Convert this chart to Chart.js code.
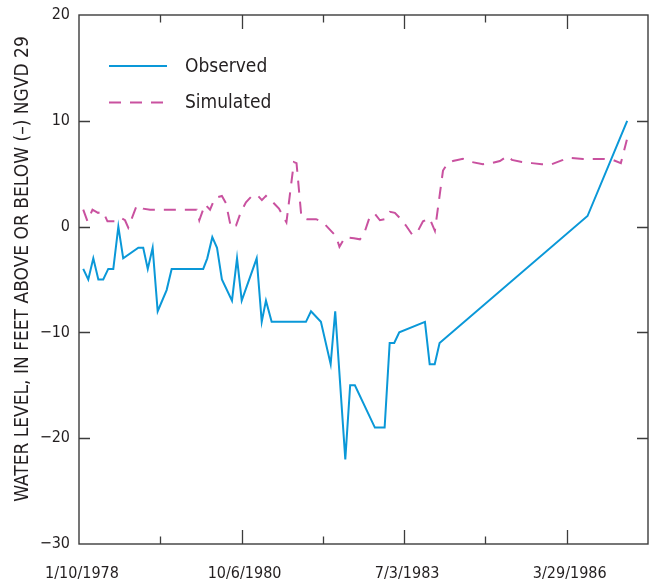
<!DOCTYPE html>
<html>
<head>
<meta charset="utf-8">
<script src="https://cdn.jsdelivr.net/npm/chart.js@4.4.1/dist/chart.umd.min.js"></script>
<style>
  html, body { margin: 0; padding: 0; background: #ffffff; }
  #wrap { width: 653px; height: 587px; position: relative; }
</style>
</head>
<body>
<div id="wrap"><canvas id="chart" width="653" height="587"></canvas></div>
<script>
// Time axis is measured in days elapsed since 1/10/1978.
const observedDays  = [26, 57, 88, 119, 149, 180, 211, 242, 272, 365, 395, 423, 453, 484, 539, 570,
  764, 789, 820, 849, 879, 941, 972, 1001, 1093, 1124, 1150, 1185, 1396, 1427, 1488, 1548, 1576,
  1638, 1668, 1697, 1820, 1880, 1911, 1939, 1970, 2128, 2157, 2188, 2218, 3128, 3372];
const observedLevel = [-4, -5, -3, -5, -5, -4, -4, 0, -3, -2, -2, -4, -2, -8, -6, -4,
  -4, -3, -1, -2, -5, -7, -3, -7, -3, -9, -7, -9, -9, -8, -9, -13, -8,
  -22, -15, -15, -19, -19, -11, -11, -10, -9, -13, -13, -11, 1, 10];

const simulatedDays  = [26, 52, 83, 117, 148, 175, 232, 261, 283, 303, 355, 394, 437, 724, 740, 775,
  806, 836, 879, 904, 935, 966, 996, 1027, 1070, 1101, 1125, 1150, 1193, 1230, 1276, 1322, 1338,
  1368, 1402, 1458, 1501, 1550, 1581, 1602, 1636, 1691, 1728, 1753, 1790, 1820, 1851, 1882, 1913,
  1943, 1974, 2011, 2051, 2085, 2116, 2156, 2189, 2239, 2269, 2300, 2362, 2417, 2485, 2540, 2589,
  2638, 2663, 2724, 2786, 2847, 2909, 2977, 3007, 3100, 3161, 3223, 3284, 3333, 3370];
const simulatedLevel = [1.6, 0.5, 1.6, 1.3, 1.4, 0.5, 0.5, 0.8, 0.6, -0.1, 2.0, 1.7, 1.6, 1.6, 0.6, 2.1,
  1.6, 2.7, 2.9, 2.2, -0.1, 0.1, 1.4, 2.3, 3.0, 2.9, 2.5, 2.9, 2.3, 1.7, 0.4, 6.1, 6.0,
  0.9, 0.7, 0.7, 0.4, -0.4, -0.9, -1.9, -1.0, -1.1, -1.2, -0.7, 1.0, 1.2, 0.6, 0.7, 1.4,
  1.3, 0.8, 0.1, -0.8, -0.4, 0.5, 0.8, -0.4, 5.3, 6.0, 6.2, 6.4, 6.1, 5.9, 6.0, 6.2,
  6.7, 6.3, 6.1, 6.0, 5.9, 5.9, 6.3, 6.5, 6.4, 6.4, 6.4, 6.3, 6.0, 8.2];

const dateTickDays   = [0, 1000, 2000, 3000];
const dateTickLabels = ['1/10/1978', '10/6/1980', '7/3/1983', '3/29/1986'];
const levelTicks     = [-30, -20, -10, 0, 10, 20];

const FONT = "'Liberation Sans Narrow', 'DejaVu Sans Condensed', 'Liberation Sans', sans-serif";
const INK = '#231f20';
const FRAME = '#3c3c3c';

function toPoints(xs, ys) {
  return xs.map((x, i) => ({ x: x, y: ys[i] }));
}

// Frame, inward tick marks, axis title and the in-plot legend.
const decorations = {
  id: 'decorations',
  afterDraw(chart) {
    const ctx = chart.ctx;
    const a = chart.chartArea;
    const xs = chart.scales.x;
    const ys = chart.scales.y;
    ctx.save();
    ctx.strokeStyle = FRAME;
    ctx.lineWidth = 1.4;
    ctx.strokeRect(a.left, a.top, a.right - a.left, a.bottom - a.top);

    ctx.lineWidth = 1.3;
    ctx.beginPath();
    for (let d = 500; d < xs.max; d += 500) {
      const px = Math.round(xs.getPixelForValue(d)) + 0.5;
      const len = d % 1000 === 0 ? 14 : 7.5;
      ctx.moveTo(px, a.bottom); ctx.lineTo(px, a.bottom - len);
      ctx.moveTo(px, a.top);    ctx.lineTo(px, a.top + len);
    }
    levelTicks.forEach(v => {
      if (v <= ys.min || v >= ys.max) return;
      const py = Math.round(ys.getPixelForValue(v)) + 0.5;
      ctx.moveTo(a.left, py);  ctx.lineTo(a.left + 11, py);
      ctx.moveTo(a.right, py); ctx.lineTo(a.right - 11, py);
    });
    ctx.stroke();

    // vertical axis title
    ctx.fillStyle = INK;
    ctx.font = '19px ' + FONT;
    ctx.textAlign = 'center';
    ctx.textBaseline = 'middle';
    ctx.translate(23, 269);
    ctx.rotate(-Math.PI / 2);
    ctx.fillText('WATER LEVEL, IN FEET ABOVE OR BELOW (\u2013) NGVD 29', 0, 0);
    ctx.restore();

    // legend
    ctx.save();
    const rows = [66, 102.5];
    chart.data.datasets.forEach((ds, i) => {
      const y = rows[i];
      ctx.strokeStyle = ds.borderColor;
      ctx.lineWidth = ds.borderWidth;
      ctx.setLineDash(ds.borderDash || []);
      ctx.beginPath();
      ctx.moveTo(109, y); ctx.lineTo(167, y);
      ctx.stroke();
      ctx.setLineDash([]);
      ctx.fillStyle = INK;
      ctx.font = '19px ' + FONT;
      ctx.textAlign = 'left';
      ctx.textBaseline = 'middle';
      ctx.fillText(ds.label, 185, y + 1);
    });
    ctx.restore();
  }
};

new Chart(document.getElementById('chart'), {
  type: 'line',
  data: {
    datasets: [
      {
        label: 'Observed',
        data: toPoints(observedDays, observedLevel),
        borderColor: '#0a98d8',
        borderWidth: 2,
        pointRadius: 0,
        tension: 0,
        fill: false
      },
      {
        label: 'Simulated',
        data: toPoints(simulatedDays, simulatedLevel),
        borderColor: '#c9519f',
        borderWidth: 2,
        borderDash: [12, 9],
        pointRadius: 0,
        tension: 0,
        fill: false
      }
    ]
  },
  options: {
    responsive: false,
    animation: false,
    devicePixelRatio: 1,
    layout: { autoPadding: false, padding: { top: 15, right: 5, left: 0, bottom: 0 } },
    plugins: { legend: { display: false }, tooltip: { enabled: false } },
    scales: {
      x: {
        type: 'linear',
        min: 0,
        max: 3500,
        grid: { display: false },
        border: { display: false },
        afterBuildTicks(scale) {
          scale.ticks = dateTickDays.map(v => ({ value: v }));
        },
        afterFit(scale) { scale.height = 43; },
        ticks: {
          autoSkip: false,
          maxRotation: 0,
          padding: 12,
          labelOffset: 3,
          color: INK,
          font: { family: FONT, size: 16 },
          callback(value) {
            const i = dateTickDays.indexOf(value);
            return i >= 0 ? dateTickLabels[i] : '';
          }
        }
      },
      y: {
        min: -30,
        max: 20,
        grid: { display: false },
        border: { display: false },
        afterBuildTicks(scale) {
          scale.ticks = levelTicks.map(v => ({ value: v }));
        },
        afterFit(scale) { scale.width = 79; },
        ticks: {
          padding: 1,
          color: INK,
          font: { family: FONT, size: 16 },
          callback(value) {
            return value < 0 ? '\u2212' + Math.abs(value) : String(value);
          }
        }
      }
    }
  },
  plugins: [decorations]
});
</script>
</body>
</html>
